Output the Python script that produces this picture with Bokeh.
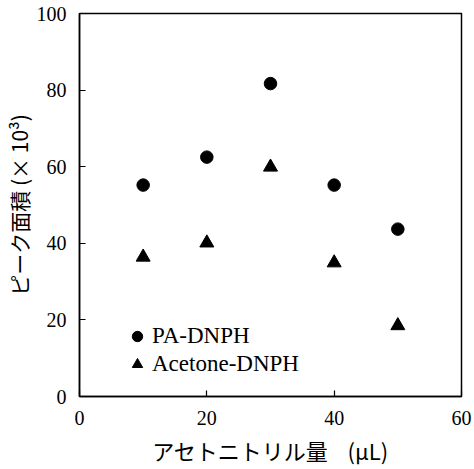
from bokeh.plotting import figure
from bokeh.models import Legend, LegendItem
from bokeh.embed import file_html
from bokeh.resources import INLINE

x_vals = [10, 20, 30, 40, 50]
pa_dnph = [55.2, 62.5, 81.7, 55.2, 43.7]
acetone_dnph = [36.4, 40.1, 59.9, 34.9, 18.5]
x_ticks = [0, 20, 40, 60]
y_ticks = [0, 20, 40, 60, 80, 100]

SERIF = "'Liberation Serif', 'Times New Roman', serif"
JP = "'Noto Sans CJK JP', sans-serif"

p = figure(width=474, height=469, x_range=(0, 60), y_range=(0, 100),
           output_backend="svg", toolbar_location=None,
           min_border_left=78, min_border_right=13, min_border_top=13, min_border_bottom=73)
p.background_fill_color = "white"
p.border_fill_color = "white"
p.outline_line_color = "black"
p.outline_line_width = 1.5
p.xgrid.visible = False
p.ygrid.visible = False

r1 = p.scatter(x_vals, pa_dnph, marker="circle", size=12.5, color="black")
r2 = p.scatter(x_vals, acetone_dnph, marker="triangle", size=14, color="black")

for ax in (p.xaxis[0], p.yaxis[0]):
    ax.axis_line_color = "black"
    ax.axis_line_width = 1.5
    ax.major_tick_in = 6
    ax.major_tick_out = 0
    ax.major_tick_line_color = "black"
    ax.major_tick_line_width = 1.2
    ax.minor_tick_line_color = None
    ax.major_label_text_font = SERIF
    ax.major_label_text_font_size = "20px"
    ax.major_label_text_color = "black"
    ax.axis_label_text_font = JP
    ax.axis_label_text_font_style = "normal"
    ax.axis_label_text_color = "black"

p.xaxis[0].ticker = x_ticks
p.yaxis[0].ticker = y_ticks
p.xaxis[0].axis_label = "アセトニトリル量\u00a0\u00a0\u00a0\u00a0(μL)"
p.yaxis[0].axis_label = "ピーク面積 (× 10³)"
p.xaxis[0].axis_label_text_font_size = "22px"
p.yaxis[0].axis_label_text_font_size = "21px"
p.xaxis[0].major_label_standoff = 14
p.yaxis[0].major_label_standoff = 13
p.xaxis[0].axis_label_standoff = 6
p.yaxis[0].axis_label_standoff = 0

legend = Legend(items=[LegendItem(label="PA-DNPH", renderers=[r1]),
                       LegendItem(label="Acetone-DNPH", renderers=[r2])],
                location=(45, 18), padding=0, margin=0, spacing=-7,
                glyph_width=26, glyph_height=28, label_standoff=2,
                label_text_font=SERIF, label_text_font_size="23px",
                label_text_color="black",
                border_line_color=None, background_fill_alpha=0)
p.add_layout(legend, "center")

open("out.html", "w").write(file_html(p, INLINE))
